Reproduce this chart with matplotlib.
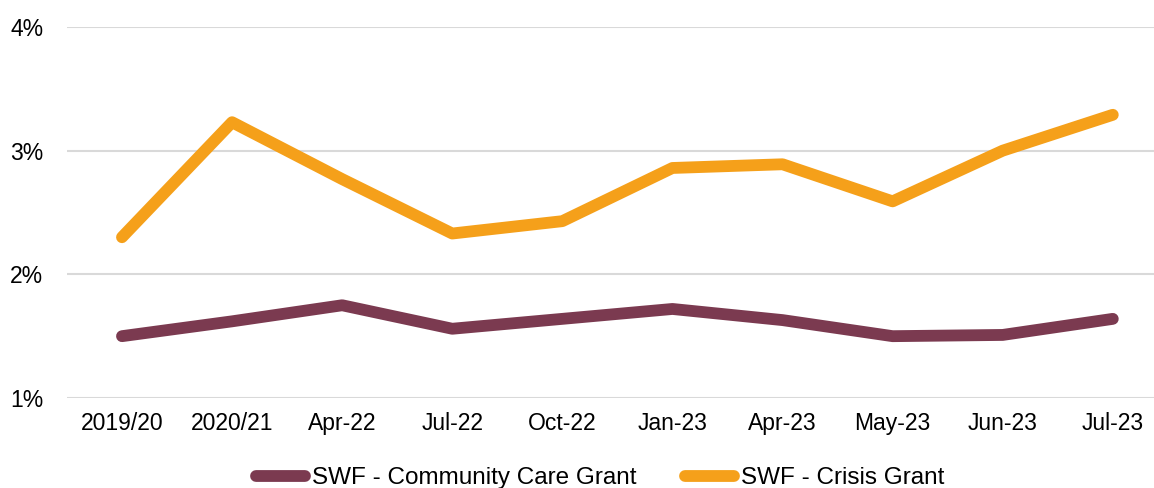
import numpy as np
import matplotlib.pyplot as plt

plt.rcParams['font.family'] = ['Liberation Sans', 'DejaVu Sans']

categories = ['2019/20', '2020/21', 'Apr-22', 'Jul-22', 'Oct-22',
              'Jan-23', 'Apr-23', 'May-23', 'Jun-23', 'Jul-23']
community_care = [1.50, 1.62, 1.75, 1.56, 1.64, 1.72, 1.63, 1.50, 1.51, 1.64]
crisis = [2.30, 3.23, 2.77, 2.33, 2.43, 2.86, 2.89, 2.59, 3.00, 3.29]
yticks = [1, 2, 3, 4]

MAROON = '#7B3A50'
ORANGE = '#F5A01A'
FS = 16.5

fig = plt.figure(figsize=(11.54, 4.88), dpi=100)
ax = fig.add_axes([0.058, 0.1844, 0.954, 0.7603])

x = np.arange(len(categories))
ax.plot(x, community_care, color=MAROON, lw=8.5, solid_capstyle='round',
        solid_joinstyle='round', label='SWF - Community Care Grant')
ax.plot(x, crisis, color=ORANGE, lw=8.5, solid_capstyle='round',
        solid_joinstyle='round', label='SWF - Crisis Grant')

ax.set_xlim(-0.5, len(categories) - 0.5)
ax.set_ylim(1, 4)
ax.set_yticks(yticks)
ax.set_yticklabels(['%d%%' % v for v in yticks])
ax.set_xticks(x)
ax.set_xticklabels(categories)
ax.tick_params(axis='both', length=0, labelsize=FS, colors='black')
ax.tick_params(axis='x', pad=10)
ax.tick_params(axis='y', pad=17)

ax.grid(axis='y', color='#d9d9d9', lw=1.5)
ax.set_axisbelow(True)
for s in ax.spines.values():
    s.set_visible(False)

fig.legend(loc='center', bbox_to_anchor=(0.52, 0.02), ncol=2, frameon=False,
           fontsize=17.5, handlelength=2.0, handletextpad=0.3, columnspacing=2.0)

plt.savefig('out.png', dpi=100)
